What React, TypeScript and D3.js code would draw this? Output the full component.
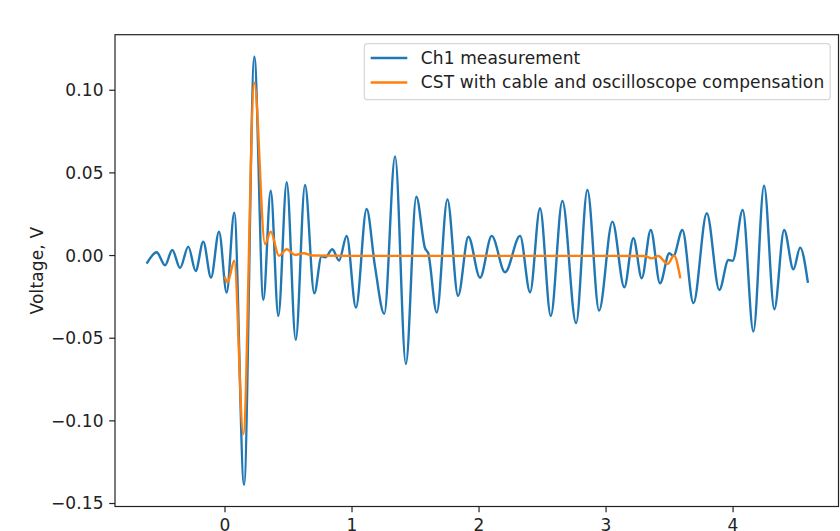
import React from "react";
import * as d3 from "d3";

const blueTime = [
  -0.612, -0.538, -0.472, -0.415, -0.354, -0.289, -0.231, -0.171, -0.11, -0.047,
  0.013, 0.073, 0.15, 0.231, 0.302, 0.36, 0.42, 0.486, 0.557, 0.63, 0.703, 0.76,
  0.79, 0.845, 0.898, 0.958, 1.031, 1.115, 1.181, 1.254, 1.339, 1.424, 1.506,
  1.575, 1.6, 1.667, 1.751, 1.835, 1.916, 2.008, 2.1, 2.205, 2.323, 2.402, 2.48,
  2.565, 2.656, 2.764, 2.853, 2.945, 3.05, 3.144, 3.215, 3.281, 3.352, 3.425,
  3.498, 3.53, 3.601, 3.688, 3.793, 3.892, 3.963, 3.997, 4.076, 4.16, 4.244,
  4.325, 4.402, 4.475, 4.528, 4.588,
];
const blueVoltage = [
  -0.0043, 0.002, -0.0059, 0.0034, -0.0075, 0.0054, -0.0093, 0.0084, -0.0133,
  0.0145, -0.0224, 0.026, -0.1387, 0.1203, -0.0268, 0.0393, -0.0365, 0.0443,
  -0.051, 0.0427, -0.0228, -0.0005, -0.001, 0.0038, -0.003, 0.0118, -0.0315,
  0.0282, -0.0067, -0.0353, 0.06, -0.0656, 0.0356, 0.0044, 0.0014, -0.0345,
  0.034, -0.0244, 0.0114, -0.0134, 0.0119, -0.0101, 0.0119, -0.0222, 0.0286,
  -0.0365, 0.033, -0.0409, 0.0397, -0.0333, 0.0205, -0.0192, 0.0105, -0.0137,
  0.0155, -0.0168, 0.0014, -0.0002, 0.0155, -0.0288, 0.0256, -0.0208, -0.0027,
  -0.0031, 0.0276, -0.046, 0.0423, -0.0325, 0.0155, -0.0083, 0.0048, -0.0158,
];

// CST with cable and oscilloscope compensation
const orangeTime = [
  0.0, 0.021, 0.073, 0.144, 0.231, 0.315, 0.36, 0.425, 0.486, 0.551, 0.617,
  0.69, 1.0, 1.5, 2.0, 2.5, 3.0, 3.3, 3.36, 3.41, 3.486, 3.535, 3.583,
];
const orangeVoltage = [
  -0.0134, -0.0161, -0.0031, -0.108, 0.1045, 0.007, 0.0145, -0.0002, 0.0038,
  0.0004, 0.0014, 0.0, -0.0002, -0.0002, -0.0002, -0.0002, -0.0002, -0.0003,
  -0.0017, -0.0003, -0.005, 0.0, -0.0131,
];

const xTicks = [0, 1, 2, 3, 4];
const yTicks = [-0.15, -0.1, -0.05, 0.0, 0.05, 0.1];
const seriesNames = ["Ch1 measurement", "CST with cable and oscilloscope compensation"];
const seriesColors = ["#1f77b4", "#ff7f0e"];
const yLabel = "Voltage, V";

const W = 840;
const H = 531;
const left = 115;
const right = 838.5;
const top = 34.7;
const bottom = 506.5;
const FONT = "'DejaVu Sans', sans-serif";
const FS = 17;
const LS = 0.15;

export default function App() {
  const x = d3.scaleLinear().domain([-0.866, 4.83]).range([left, right]);
  const y = d3.scaleLinear().domain([-0.1518, 0.1336]).range([bottom, top]);

  const line = d3
    .line<[number, number]>()
    .x((d) => x(d[0]))
    .y((d) => y(d[1]))
    .curve(d3.curveMonotoneX);

  const blue = blueTime.map((t, i) => [t, blueVoltage[i]] as [number, number]);
  const orange = orangeTime.map((t, i) => [t, orangeVoltage[i]] as [number, number]);

  const fmtY = (v: number) => {
    const s = Math.abs(v).toFixed(2);
    return v < -1e-9 ? "\u2212" + s : s;
  };

  const legRight = 830.2;
  const legLeft = 364.3;
  const legTop = 43.7;
  const legBottom = 99.7;

  return (
    <svg
      width={W}
      height={H}
      style={{ position: "absolute", left: 0, top: 0, background: "#fff" }}
      fontFamily={FONT}
      letterSpacing={LS}
    >
      <rect x={0} y={0} width={W} height={H} fill="#fff" />
      <defs>
        <clipPath id="plotclip">
          <rect x={left} y={top} width={right - left} height={bottom - top} />
        </clipPath>
      </defs>
      <g clipPath="url(#plotclip)">
        <path d={line(blue) || ""} fill="none" stroke={seriesColors[0]} strokeWidth={2.4} strokeLinejoin="round" strokeLinecap="square" />
        <path d={line(orange) || ""} fill="none" stroke={seriesColors[1]} strokeWidth={2.4} strokeLinejoin="round" strokeLinecap="square" />
      </g>
      {/* spines */}
      <rect x={left} y={top} width={right - left} height={bottom - top} fill="none" stroke="#222" strokeWidth={1.2} />
      {/* y ticks */}
      {yTicks.map((t) => (
        <g key={"y" + t}>
          <line x1={left} x2={left - 5.8} y1={y(t)} y2={y(t)} stroke="#222" strokeWidth={1.2} />
          <text x={left - 11.2} y={y(t)} dy="0.35em" textAnchor="end" fontSize={FS} fill="#222">
            {fmtY(t)}
          </text>
        </g>
      ))}
      {/* x ticks */}
      {xTicks.map((t) => (
        <g key={"x" + t}>
          <line x1={x(t)} x2={x(t)} y1={bottom} y2={bottom + 5.8} stroke="#222" strokeWidth={1.2} />
          <text x={x(t)} y={bottom + 11.6} dy="0.76em" textAnchor="middle" fontSize={FS} fill="#222">
            {t}
          </text>
        </g>
      ))}
      <text
        transform={`translate(37,${(top + bottom) / 2}) rotate(-90)`}
        textAnchor="middle"
        dy="0.35em"
        fontSize={FS}
        fill="#222"
      >
        {yLabel}
      </text>
      {/* legend */}
      <rect
        x={legLeft}
        y={legTop}
        width={legRight - legLeft}
        height={legBottom - legTop}
        rx={3.3}
        fill="#fff"
        fillOpacity={0.8}
        stroke="#d6d6d6"
        strokeWidth={1.2}
      />
      {seriesNames.map((name, i) => {
        const cy = 58 + i * 24.5;
        return (
          <g key={name}>
            <line x1={370.7} x2={407.3} y1={cy} y2={cy} stroke={seriesColors[i]} strokeWidth={2.4} />
            <text x={420.7} y={cy} dy="0.35em" fontSize={FS} fill="#222">
              {name}
            </text>
          </g>
        );
      })}
    </svg>
  );
}
